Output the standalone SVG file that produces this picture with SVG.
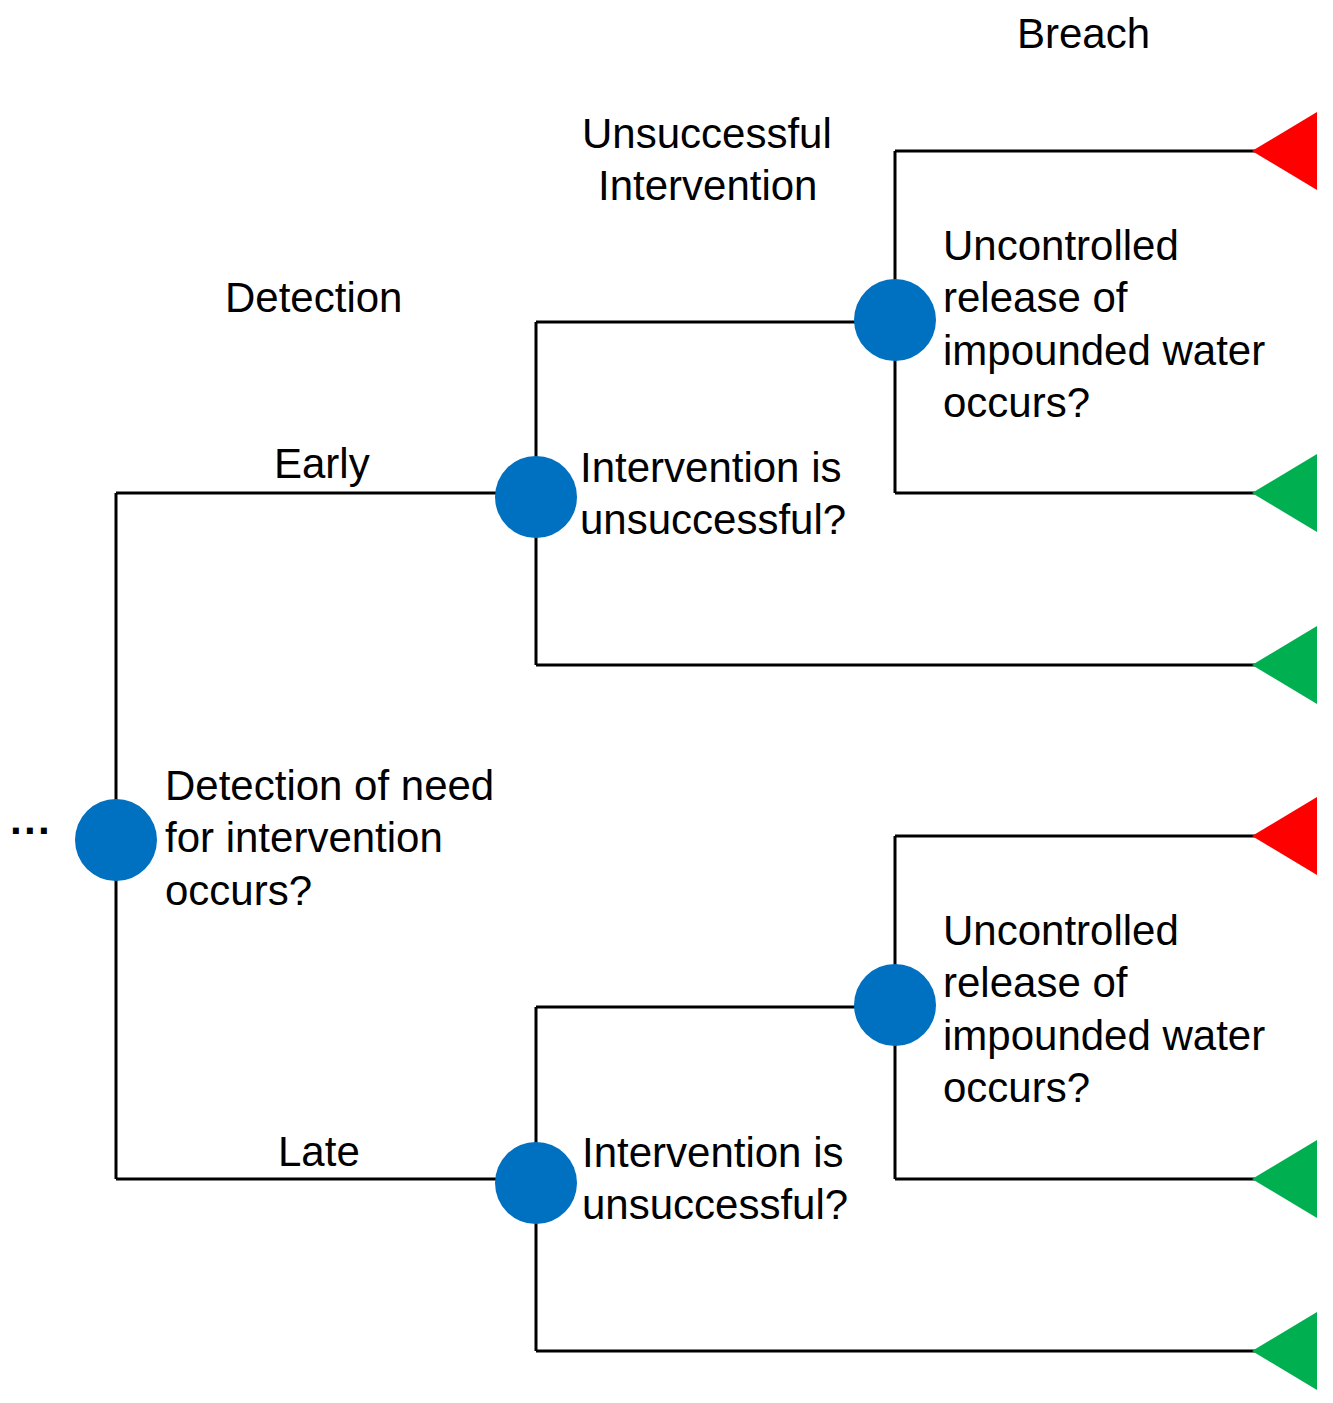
<svg xmlns="http://www.w3.org/2000/svg" width="1333" height="1403" viewBox="0 0 1333 1403">
<style>
.l{stroke:#000;stroke-width:3;fill:none}
.c{fill:#0070c0}
.t{font-family:"Liberation Sans",Arial,sans-serif;font-size:42px;fill:#000}
.r{fill:#ff0000}.g{fill:#00b050}
</style>
<rect width="1333" height="1403" fill="#fff"/>
<g id="connectors">
<path class="l" d="M116 493V1179M116 493H536M116 1179H536"/>
<path class="l" d="M536 322V665M536 322H895M536 665H1255"/>
<path class="l" d="M895 151V493M895 151H1255M895 493H1255"/>
<path class="l" d="M536 1007V1351M536 1007H895M536 1351H1255"/>
<path class="l" d="M895 836V1179M895 836H1255M895 1179H1255"/>
</g>
<g id="headers">
<text class="t" x="1017" y="48">Breach</text>
<text class="t" x="582" y="148">Unsuccessful</text>
<text class="t" x="598" y="200">Intervention</text>
<text class="t" x="225" y="312">Detection</text>
<text class="t" x="274" y="478">Early</text>
<text class="t" x="278" y="1166">Late</text>
<text class="t" x="10" y="845" font-weight="bold">···</text>
</g>
<g id="n0"><circle class="c" cx="116" cy="840" r="41"/>
<text class="t" x="165" y="800">Detection of need</text><text class="t" x="165" y="852">for intervention</text><text class="t" x="165" y="905">occurs?</text></g>
<g id="n1"><circle class="c" cx="536" cy="497" r="41"/>
<text class="t" x="580" y="482">Intervention  is</text><text class="t" x="580" y="534">unsuccessful?</text></g>
<g id="n2"><circle class="c" cx="895" cy="320" r="41"/>
<text class="t" x="943" y="260">Uncontrolled</text><text class="t" x="943" y="312">release of</text><text class="t" x="943" y="365">impounded  water</text><text class="t" x="943" y="417">occurs?</text></g>
<g id="n3"><circle class="c" cx="536" cy="1183" r="41"/>
<text class="t" x="582" y="1167">Intervention  is</text><text class="t" x="582" y="1219">unsuccessful?</text></g>
<g id="n4"><circle class="c" cx="895" cy="1005" r="41"/>
<text class="t" x="943" y="945">Uncontrolled</text><text class="t" x="943" y="997">release of</text><text class="t" x="943" y="1050">impounded  water</text><text class="t" x="943" y="1102">occurs?</text></g>
<g id="ends">
<polygon class="r" points="1252,151 1317,112 1317,190"/>
<polygon class="g" points="1252,493 1317,454 1317,532"/>
<polygon class="g" points="1252,665 1317,626 1317,704"/>
<polygon class="r" points="1252,836 1317,797 1317,875"/>
<polygon class="g" points="1252,1179 1317,1140 1317,1218"/>
<polygon class="g" points="1252,1351 1317,1312 1317,1390"/>
</g>
</svg>
